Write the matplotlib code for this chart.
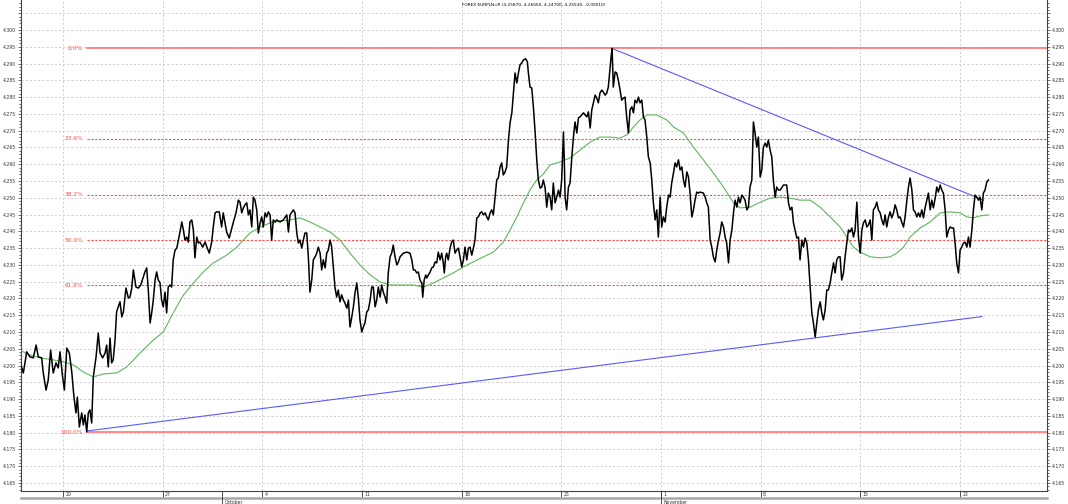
import matplotlib
matplotlib.use('Agg')
import matplotlib.pyplot as plt
import matplotlib.transforms as mtransforms
from matplotlib.ticker import MultipleLocator, FuncFormatter

# price series, x = trading days from the "20" tick, y = EURPLN
price_day = [-2.16, -1.99, -1.82, -1.66, -1.49, -1.35, -1.24, -1.07, -0.99, -0.85, -0.74, -0.62, -0.49, -0.35, -0.24, -0.15,
             -0.02, 0.07, 0.19, 0.32, 0.44, 0.55, 0.65, 0.72, 0.82, 0.94, 1.02, 1.10, 1.19, 1.27, 1.35, 1.44, 1.52, 1.66,
             1.77, 1.86, 1.99, 2.11, 2.19, 2.27, 2.36, 2.44, 2.52, 2.61, 2.69, 2.77, 2.86, 2.95, 3.03, 3.16, 3.28, 3.36,
             3.45, 3.53, 3.66, 3.78, 3.90, 4.03, 4.11, 4.20, 4.28, 4.37, 4.45, 4.53, 4.62, 4.70, 4.78, 4.87, 4.95, 5.03,
             5.12, 5.20, 5.28, 5.37, 5.45, 5.53, 5.62, 5.71, 5.84, 5.96, 6.04, 6.12, 6.21, 6.29, 6.37, 6.46, 6.54, 6.62,
             6.71, 6.79, 6.87, 7.01, 7.13, 7.24, 7.34, 7.46, 7.54, 7.63, 7.71, 7.84, 7.96, 8.04, 8.13, 8.21, 8.34, 8.47,
             8.55, 8.68, 8.80, 8.88, 8.97, 9.05, 9.13, 9.22, 9.30, 9.38, 9.47, 9.55, 9.63, 9.72, 9.80, 9.89, 9.97, 10.05,
             10.14, 10.22, 10.30, 10.39, 10.47, 10.55, 10.64, 10.72, 10.89, 11.05, 11.23, 11.31, 11.39, 11.56, 11.64,
             11.73, 11.81, 11.89, 11.98, 12.06, 12.14, 12.23, 12.31, 12.39, 12.48, 12.56, 12.65, 12.73, 12.81, 12.90,
             12.98, 13.06, 13.15, 13.23, 13.31, 13.40, 13.48, 13.56, 13.65, 13.73, 13.81, 13.90, 13.98, 14.07, 14.15,
             14.24, 14.32, 14.40, 14.49, 14.57, 14.65, 14.74, 14.82, 14.90, 14.99, 15.07, 15.15, 15.24, 15.32, 15.41,
             15.49, 15.57, 15.66, 15.74, 15.82, 15.91, 15.99, 16.07, 16.16, 16.24, 16.32, 16.41, 16.49, 16.57, 16.66,
             16.75, 16.83, 16.91, 17.08, 17.25, 17.41, 17.50, 17.58, 17.66, 17.75, 17.83, 17.91, 18.00, 18.05, 18.12,
             18.20, 18.25, 18.33, 18.42, 18.50, 18.58, 18.67, 18.75, 18.83, 18.92, 19.00, 19.08, 19.13, 19.20, 19.25,
             19.33, 19.42, 19.50, 19.58, 19.67, 19.75, 19.84, 19.92, 20.01, 20.09, 20.17, 20.26, 20.34, 20.42, 20.51,
             20.59, 20.67, 20.76, 20.84, 20.93, 21.01, 21.09, 21.18, 21.26, 21.34, 21.43, 21.51, 21.59, 21.68, 21.76,
             21.84, 21.93, 22.01, 22.09, 22.18, 22.26, 22.35, 22.43, 22.52, 22.60, 22.68, 22.77, 22.85, 22.93, 23.02,
             23.10, 23.22, 23.30, 23.35, 23.43, 23.52, 23.60, 23.69, 23.77, 23.85, 23.94, 24.02, 24.10, 24.19, 24.27,
             24.35, 24.44, 24.52, 24.60, 24.69, 24.77, 24.86, 24.94, 25.02, 25.11, 25.16, 25.19, 25.27, 25.36, 25.44,
             25.53, 25.61, 25.69, 25.78, 25.86, 25.94, 26.11, 26.28, 26.36, 26.45, 26.53, 26.61, 26.70, 26.78, 26.86,
             26.94, 27.03, 27.11, 27.20, 27.28, 27.36, 27.45, 27.50, 27.55, 27.61, 27.70, 27.78, 27.86, 27.95, 28.03,
             28.12, 28.20, 28.28, 28.37, 28.45, 28.54, 28.62, 28.70, 28.79, 28.87, 28.95, 29.04, 29.12, 29.20, 29.29,
             29.37, 29.46, 29.54, 29.62, 29.71, 29.79, 29.87, 29.96, 30.04, 30.12, 30.21, 30.29, 30.38, 30.46, 30.54,
             30.63, 30.71, 30.79, 30.88, 30.96, 31.05, 31.13, 31.21, 31.30, 31.38, 31.46, 31.55, 31.63, 31.71, 31.80,
             31.88, 31.96, 32.13, 32.22, 32.30, 32.38, 32.47, 32.55, 32.63, 32.72, 32.80, 32.89, 32.97, 33.05, 33.14,
             33.22, 33.30, 33.39, 33.47, 33.56, 33.64, 33.72, 33.81, 33.89, 33.97, 34.06, 34.14, 34.22, 34.31, 34.39,
             34.47, 34.56, 34.64, 34.72, 34.81, 34.89, 34.98, 35.06, 35.14, 35.23, 35.31, 35.39, 35.48, 35.56, 35.64,
             35.73, 35.81, 35.90, 35.98, 36.15, 36.31, 36.40, 36.48, 36.57, 36.65, 36.73, 36.82, 36.90, 36.98, 37.07,
             37.15, 37.23, 37.32, 37.40, 37.49, 37.57, 37.65, 37.74, 37.82, 37.90, 37.99, 38.07, 38.15, 38.24, 38.32,
             38.40, 38.49, 38.57, 38.66, 38.74, 38.82, 38.91, 38.99, 39.07, 39.16, 39.24, 39.33, 39.41, 39.49, 39.58,
             39.66, 39.74, 39.83, 39.91, 40.00, 40.08, 40.16, 40.25, 40.33, 40.41, 40.50, 40.58, 40.66, 40.75, 40.83,
             40.91, 41.00, 41.08, 41.17, 41.25, 41.33, 41.42, 41.50, 41.58, 41.67, 41.75, 41.83, 41.92, 42.00, 42.08,
             42.17, 42.25, 42.34, 42.42, 42.50, 42.59, 42.67, 42.75, 42.84, 42.92, 43.00, 43.09, 43.17, 43.26, 43.34,
             43.42, 43.51, 43.59, 43.67, 43.76, 43.84, 43.92, 44.01, 44.09, 44.17, 44.26, 44.34, 44.43, 44.51, 44.59,
             44.68, 44.76, 44.84, 44.93, 45.01, 45.09, 45.18, 45.26, 45.35, 45.43, 45.51, 45.60, 45.68, 45.76, 45.85,
             45.93, 46.01, 46.10, 46.18, 46.26, 46.35, 46.43]
price_val = [4.2011, 4.1978, 4.2041, 4.2026, 4.2023, 4.2061, 4.2026, 4.2023, 4.1978, 4.1927, 4.1957, 4.2046, 4.1978, 4.2008,
             4.1993, 4.2041, 4.1966, 4.1927, 4.2052, 4.2037, 4.1981, 4.1906, 4.1859, 4.1906, 4.1817, 4.1859, 4.1823, 4.1853,
             4.1802, 4.1859, 4.1868, 4.1829, 4.1966, 4.2026, 4.2097, 4.2037, 4.2023, 4.2037, 4.2061, 4.1996, 4.2082, 4.2008,
             4.2017, 4.2076, 4.2160, 4.2175, 4.2190, 4.2145, 4.2160, 4.2231, 4.2201, 4.2204, 4.2231, 4.2285, 4.2234, 4.2231,
             4.2240, 4.2264, 4.2279, 4.2291, 4.2225, 4.2127, 4.2157, 4.2195, 4.2255, 4.2279, 4.2255, 4.2246, 4.2195, 4.2175,
             4.2219, 4.2157, 4.2234, 4.2240, 4.2234, 4.2315, 4.2344, 4.2350, 4.2389, 4.2428, 4.2404, 4.2374, 4.2383, 4.2368,
             4.2428, 4.2434, 4.2404, 4.2321, 4.2383, 4.2365, 4.2368, 4.2353, 4.2368, 4.2350, 4.2335, 4.2368, 4.2413, 4.2455,
             4.2458, 4.2458, 4.2413, 4.2455, 4.2425, 4.2398, 4.2380, 4.2410, 4.2428, 4.2455, 4.2493, 4.2487, 4.2455, 4.2470,
             4.2479, 4.2485, 4.2449, 4.2464, 4.2413, 4.2502, 4.2493, 4.2464, 4.2395, 4.2425, 4.2443, 4.2413, 4.2455, 4.2443,
             4.2458, 4.2449, 4.2374, 4.2434, 4.2428, 4.2434, 4.2428, 4.2434, 4.2449, 4.2398, 4.2449, 4.2464, 4.2455, 4.2395,
             4.2365, 4.2374, 4.2350, 4.2374, 4.2395, 4.2395, 4.2324, 4.2219, 4.2255, 4.2315, 4.2324, 4.2335, 4.2353, 4.2335,
             4.2285, 4.2315, 4.2291, 4.2335, 4.2344, 4.2374, 4.2353, 4.2294, 4.2231, 4.2204, 4.2225, 4.2190, 4.2211, 4.2195,
             4.2186, 4.2171, 4.2195, 4.2115, 4.2145, 4.2175, 4.2216, 4.2246, 4.2201, 4.2136, 4.2100, 4.2115, 4.2127, 4.2160,
             4.2166, 4.2195, 4.2234, 4.2234, 4.2175, 4.2195, 4.2234, 4.2204, 4.2240, 4.2219, 4.2204, 4.2186, 4.2276, 4.2324,
             4.2335, 4.2359, 4.2324, 4.2300, 4.2309, 4.2324, 4.2335, 4.2338, 4.2335, 4.2315, 4.2285, 4.2285, 4.2276, 4.2279,
             4.2255, 4.2246, 4.2204, 4.2255, 4.2270, 4.2261, 4.2270, 4.2279, 4.2291, 4.2294, 4.2309, 4.2306, 4.2338, 4.2315,
             4.2335, 4.2306, 4.2276, 4.2324, 4.2335, 4.2315, 4.2350, 4.2368, 4.2374, 4.2335, 4.2344, 4.2350, 4.2324, 4.2294,
             4.2315, 4.2353, 4.2315, 4.2350, 4.2353, 4.2329, 4.2350, 4.2374, 4.2440, 4.2443, 4.2455, 4.2458, 4.2449, 4.2455,
             4.2443, 4.2434, 4.2455, 4.2464, 4.2449, 4.2502, 4.2553, 4.2559, 4.2592, 4.2604, 4.2568, 4.2577, 4.2592, 4.2672,
             4.2723, 4.2753, 4.2812, 4.2872, 4.2842, 4.2872, 4.2896, 4.2902, 4.2911, 4.2914, 4.2905, 4.2872, 4.2830, 4.2827,
             4.2771, 4.2693, 4.2613, 4.2553, 4.2529, 4.2532, 4.2553, 4.2529, 4.2472, 4.2514, 4.2502, 4.2464, 4.2544, 4.2485,
             4.2502, 4.2523, 4.2502, 4.2553, 4.2696, 4.2592, 4.2502, 4.2464, 4.2532, 4.2544, 4.2622, 4.2681, 4.2726, 4.2693,
             4.2738, 4.2741, 4.2753, 4.2741, 4.2756, 4.2708, 4.2762, 4.2783, 4.2806, 4.2797, 4.2783, 4.2812, 4.2821, 4.2815,
             4.2806, 4.2812, 4.2830, 4.2890, 4.2920, 4.2945, 4.2830, 4.2875, 4.2872, 4.2851, 4.2821, 4.2791, 4.2797, 4.2800,
             4.2741, 4.2693, 4.2762, 4.2771, 4.2753, 4.2791, 4.2783, 4.2800, 4.2783, 4.2791, 4.2741, 4.2732, 4.2681, 4.2622,
             4.2604, 4.2553, 4.2485, 4.2434, 4.2464, 4.2383, 4.2502, 4.2413, 4.2443, 4.2428, 4.2472, 4.2508, 4.2502, 4.2544,
             4.2574, 4.2604, 4.2592, 4.2613, 4.2583, 4.2592, 4.2553, 4.2532, 4.2577, 4.2562, 4.2514, 4.2443, 4.2464, 4.2493,
             4.2517, 4.2514, 4.2517, 4.2514, 4.2502, 4.2485, 4.2472, 4.2374, 4.2353, 4.2324, 4.2309, 4.2344, 4.2374, 4.2395,
             4.2428, 4.2413, 4.2383, 4.2365, 4.2306, 4.2374, 4.2404, 4.2455, 4.2493, 4.2472, 4.2502, 4.2485, 4.2508, 4.2502,
             4.2493, 4.2464, 4.2472, 4.2532, 4.2553, 4.2726, 4.2693, 4.2651, 4.2681, 4.2562, 4.2583, 4.2651, 4.2663, 4.2651,
             4.2672, 4.2642, 4.2622, 4.2553, 4.2502, 4.2532, 4.2523, 4.2523, 4.2538, 4.2538, 4.2485, 4.2464, 4.2472, 4.2425,
             4.2404, 4.2380, 4.2383, 4.2315, 4.2374, 4.2353, 4.2380, 4.2365, 4.2315, 4.2234, 4.2157, 4.2127, 4.2085, 4.2127,
             4.2166, 4.2190, 4.2157, 4.2136, 4.2166, 4.2225, 4.2225, 4.2246, 4.2276, 4.2306, 4.2276, 4.2315, 4.2324, 4.2324,
             4.2255, 4.2276, 4.2324, 4.2368, 4.2404, 4.2398, 4.2410, 4.2383, 4.2404, 4.2487, 4.2383, 4.2335, 4.2404, 4.2425,
             4.2434, 4.2413, 4.2419, 4.2434, 4.2374, 4.2464, 4.2472, 4.2487, 4.2464, 4.2455, 4.2434, 4.2419, 4.2449, 4.2413,
             4.2443, 4.2458, 4.2440, 4.2455, 4.2479, 4.2464, 4.2440, 4.2443, 4.2428, 4.2413, 4.2443, 4.2493, 4.2532, 4.2559,
             4.2523, 4.2464, 4.2458, 4.2443, 4.2455, 4.2443, 4.2464, 4.2440, 4.2472, 4.2493, 4.2514, 4.2464, 4.2493, 4.2470,
             4.2499, 4.2532, 4.2517, 4.2538, 4.2523, 4.2514, 4.2464, 4.2383, 4.2404, 4.2413, 4.2410, 4.2410, 4.2365, 4.2306,
             4.2276, 4.2344, 4.2353, 4.2365, 4.2368, 4.2353, 4.2383, 4.2353, 4.2404, 4.2464, 4.2508, 4.2502, 4.2493, 4.2502,
             4.2464, 4.2514, 4.2523, 4.2547, 4.2553]

# moving average (green)
ma_day = [-2.16, -1.66, -1.15, -0.49, 0.02, 0.52, 1.02, 1.52, 2.02, 2.69, 3.20, 3.86, 4.53, 5.03, 5.53, 6.04, 6.54, 7.04,
          7.54, 8.21, 8.72, 9.38, 9.89, 10.39, 10.89, 11.39, 11.89, 12.39, 12.90, 13.40, 13.90, 14.40, 14.90, 15.41,
          15.91, 16.41, 16.91, 17.58, 18.08, 18.58, 19.08, 19.58, 20.09, 20.59, 21.09, 21.59, 22.09, 22.43, 22.77,
          23.10, 23.43, 23.77, 24.10, 24.44, 24.94, 25.44, 25.94, 26.45, 26.94, 27.45, 27.95, 28.28, 28.62, 28.95,
          29.29, 29.79, 30.29, 30.63, 31.13, 31.63, 32.13, 32.63, 33.14, 33.64, 33.97, 34.47, 34.98, 35.48, 35.98,
          36.48, 36.98, 37.49, 37.99, 38.49, 38.99, 39.33, 39.66, 40.00, 40.50, 41.00, 41.50, 41.83, 42.17, 42.50,
          43.00, 43.51, 44.01, 44.51, 45.01, 45.35, 45.68, 46.01, 46.43]
ma_val = [4.2046, 4.2031, 4.2023, 4.2017, 4.2011, 4.2002, 4.1981, 4.1966, 4.1975, 4.1978, 4.1996, 4.2037, 4.2076, 4.2100,
          4.2157, 4.2210, 4.2246, 4.2279, 4.2306, 4.2329, 4.2353, 4.2395, 4.2413, 4.2425, 4.2431, 4.2434, 4.2440, 4.2428,
          4.2413, 4.2398, 4.2374, 4.2335, 4.2300, 4.2270, 4.2249, 4.2240, 4.2240, 4.2240, 4.2234, 4.2246, 4.2261, 4.2276,
          4.2294, 4.2309, 4.2324, 4.2338, 4.2368, 4.2404, 4.2443, 4.2485, 4.2523, 4.2553, 4.2571, 4.2598, 4.2607, 4.2619,
          4.2642, 4.2666, 4.2681, 4.2681, 4.2678, 4.2687, 4.2711, 4.2732, 4.2747, 4.2747, 4.2732, 4.2711, 4.2693, 4.2651,
          4.2613, 4.2574, 4.2532, 4.2485, 4.2470, 4.2472, 4.2487, 4.2499, 4.2502, 4.2499, 4.2493, 4.2493, 4.2472, 4.2443,
          4.2413, 4.2383, 4.2353, 4.2338, 4.2324, 4.2321, 4.2324, 4.2335, 4.2353, 4.2383, 4.2410, 4.2428, 4.2455, 4.2458,
          4.2455, 4.2443, 4.2440, 4.2446, 4.2449]

# trend lines (start day, start price, end day, end price)
trend_upper = [27.55, 4.2945, 46.18, 4.2493]
trend_lower = [1.19, 4.1805, 46.10, 4.2146]

# fibonacci retracement between low and high
fib_high = 4.2945
fib_low = 4.1802
fib_start = 1.19
fib_ratios = [0.0, 0.236, 0.382, 0.5, 0.618, 1.0]
fib_labels = ['0.0%', '23.6%', '38.2%', '50.0%', '61.8%', '100.0%']

tick_days = [0, 5, 10, 15, 20, 25, 30, 35, 40, 45]
tick_labels = ['20', '27', '4', '11', '18', '25', '1', '8', '15', '22']
month_days = [8, 30]
month_labels = ['October', 'November']

title = 'FOREX EURPLN=R (4.25870, 4.26050, 4.24700, 4.25530, -0.00010)'

x_min, x_max = -2.107, 49.37
y_min, y_max = 4.16262, 4.30894

fig = plt.figure(figsize=(10.68, 5.04), dpi=100)
ax = fig.add_axes([21 / 1068, 13 / 504, 1026 / 1068, 491 / 504])
ax.set_xlim(x_min, x_max)
ax.set_ylim(y_min, y_max)

# grid
grid_kw = dict(color='#c8c8c8', lw=0.6, dashes=(2.5, 2.5), zorder=0)
y = 4.165
while y < y_max:
  ax.axhline(y, **grid_kw)
  y += 0.005
for d in tick_days:
  ax.axvline(d, **grid_kw)

# fibonacci levels
for r, lab in zip(fib_ratios, fib_labels):
  lvl = fib_high - r * (fib_high - fib_low)
  if r in (0.0, 1.0):
    ax.plot([fib_start, x_max], [lvl, lvl], color='#ff6a6a', lw=1.1, zorder=2)
  else:
    ax.plot([fib_start, x_max], [lvl, lvl], color='#ff4a4a', lw=0.8, dashes=(2, 1.5), zorder=2)
  ax.text(fib_start - 0.18, lvl, lab, color='#ff4a4a', fontsize=4.2, ha='right', va='center')

# trend lines
ax.plot(trend_upper[0::2], trend_upper[1::2], color='#5a5aff', lw=0.8, zorder=3)
ax.plot(trend_lower[0::2], trend_lower[1::2], color='#5a5aff', lw=0.8, zorder=3)

# moving average and price
ax.plot(ma_day, ma_val, color='#5cb85c', lw=0.8, zorder=4)
ax.plot(price_day, price_val, color='black', lw=1.1, zorder=5)

ax.text(0.5, 0.993, title, transform=ax.transAxes, fontsize=3.1, ha='center', va='top')

# y axis on both sides, no label above 4.300
ax.yaxis.set_major_locator(MultipleLocator(0.005))
ax.yaxis.set_minor_locator(MultipleLocator(0.001))
ax.yaxis.set_major_formatter(FuncFormatter(lambda v, pos: '%.3f' % v if v < 4.3001 else ''))
ax.tick_params(axis='y', which='both', left=True, right=True, labelleft=True, labelright=True,
               labelsize=3.3, direction='out', width=0.5, colors='#333333', pad=1)
ax.tick_params(axis='y', which='major', length=2.5)
ax.tick_params(axis='y', which='minor', length=1.2)

# date strip underneath
ax.set_xticks(tick_days)
ax.set_xticklabels([])
ax.tick_params(axis='x', which='major', direction='out', length=4, width=0.6, colors='#333333')
trans = mtransforms.blended_transform_factory(ax.transData, ax.transAxes)
px = 1 / 491
for d, lab in zip(tick_days, tick_labels):
  ax.text(d + 0.12, -0.8 * px, lab, transform=trans, fontsize=3.3, ha='left', va='top', color='#333333')
ax.plot([x_min, x_max], [-7 * px, -7 * px], transform=trans, clip_on=False, color='#a8a8a8', lw=1.8)
for d, lab in zip(month_days, month_labels):
  ax.plot([d, d], [0, -13 * px], transform=trans, clip_on=False, color='#333333', lw=0.6)
  ax.text(d + 0.12, -8.5 * px, lab, transform=trans, fontsize=3.3, ha='left', va='top', color='#333333')

for side in ['left', 'right', 'bottom']:
  ax.spines[side].set_color('#444444')
  ax.spines[side].set_linewidth(0.8)
ax.spines['top'].set_visible(False)

fig.savefig('out.png', dpi=100)
